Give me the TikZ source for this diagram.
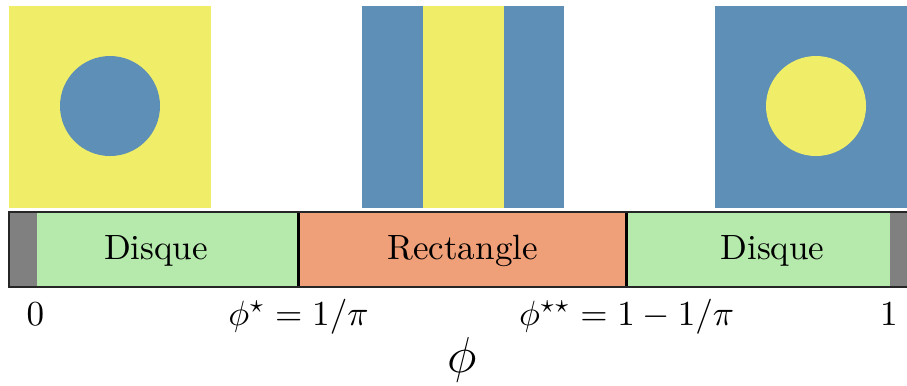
\documentclass[tikz,border=0pt]{standalone}
\definecolor{cyel}{RGB}{240,238,104}
\definecolor{cblue}{RGB}{93,143,183}
\definecolor{cgreen}{RGB}{182,234,172}
\definecolor{corange}{RGB}{240,160,120}
\definecolor{cgray}{RGB}{128,128,128}
\begin{document}
\begin{tikzpicture}[x=0.285pt,y=-0.285pt,
  lbl/.style={anchor=base,inner sep=0pt},
  sep/.style={line width=0.7pt,black}]
\useasboundingbox (0,0) rectangle (907,385);
\clip (0,0) rectangle (907,385);
% pictures
\fill[cyel] (9,6) rectangle (211,208);
\fill[cblue] (110,106) circle[radius=50];
\fill[cblue] (362,6) rectangle (564,208);
\fill[cyel] (423,6) rectangle (504,208);
\fill[cblue] (715,6) rectangle (917,208);
\fill[cyel] (816,106) circle[radius=50];
% bar
\fill[cgreen] (9,212) rectangle (298.5,287);
\fill[corange] (298.5,212) rectangle (626.7,287);
\fill[cgreen] (626.7,212) rectangle (918,287);
\fill[cgray] (9,212) rectangle (37,287);
\fill[cgray] (890,212) rectangle (918,287);
\draw[sep] (298.5,212) -- (298.5,287);
\draw[sep] (626.7,212) -- (626.7,287);
\draw[line width=0.4pt,black!85] (9,212) rectangle (918,287);
% texts
\node[lbl] (d1) at (156,259) {Disque};
\node[lbl] (r) at (462.6,259) {Rectangle};
\node[lbl] (d2) at (772.5,259) {Disque};
\node[lbl] (l0) at (35.5,325) {$0$};
\node[lbl] (l1) at (889,325) {$1$};
\node[lbl] (ls) at (298.5,325) {$\phi^\star = 1/\pi$};
\node[lbl] (lss) at (626.7,325) {$\phi^{\star\star} = 1 - 1/\pi$};
\node[lbl] (phi) at (462,372) {\Large$\phi$};
\end{tikzpicture}
\end{document}
